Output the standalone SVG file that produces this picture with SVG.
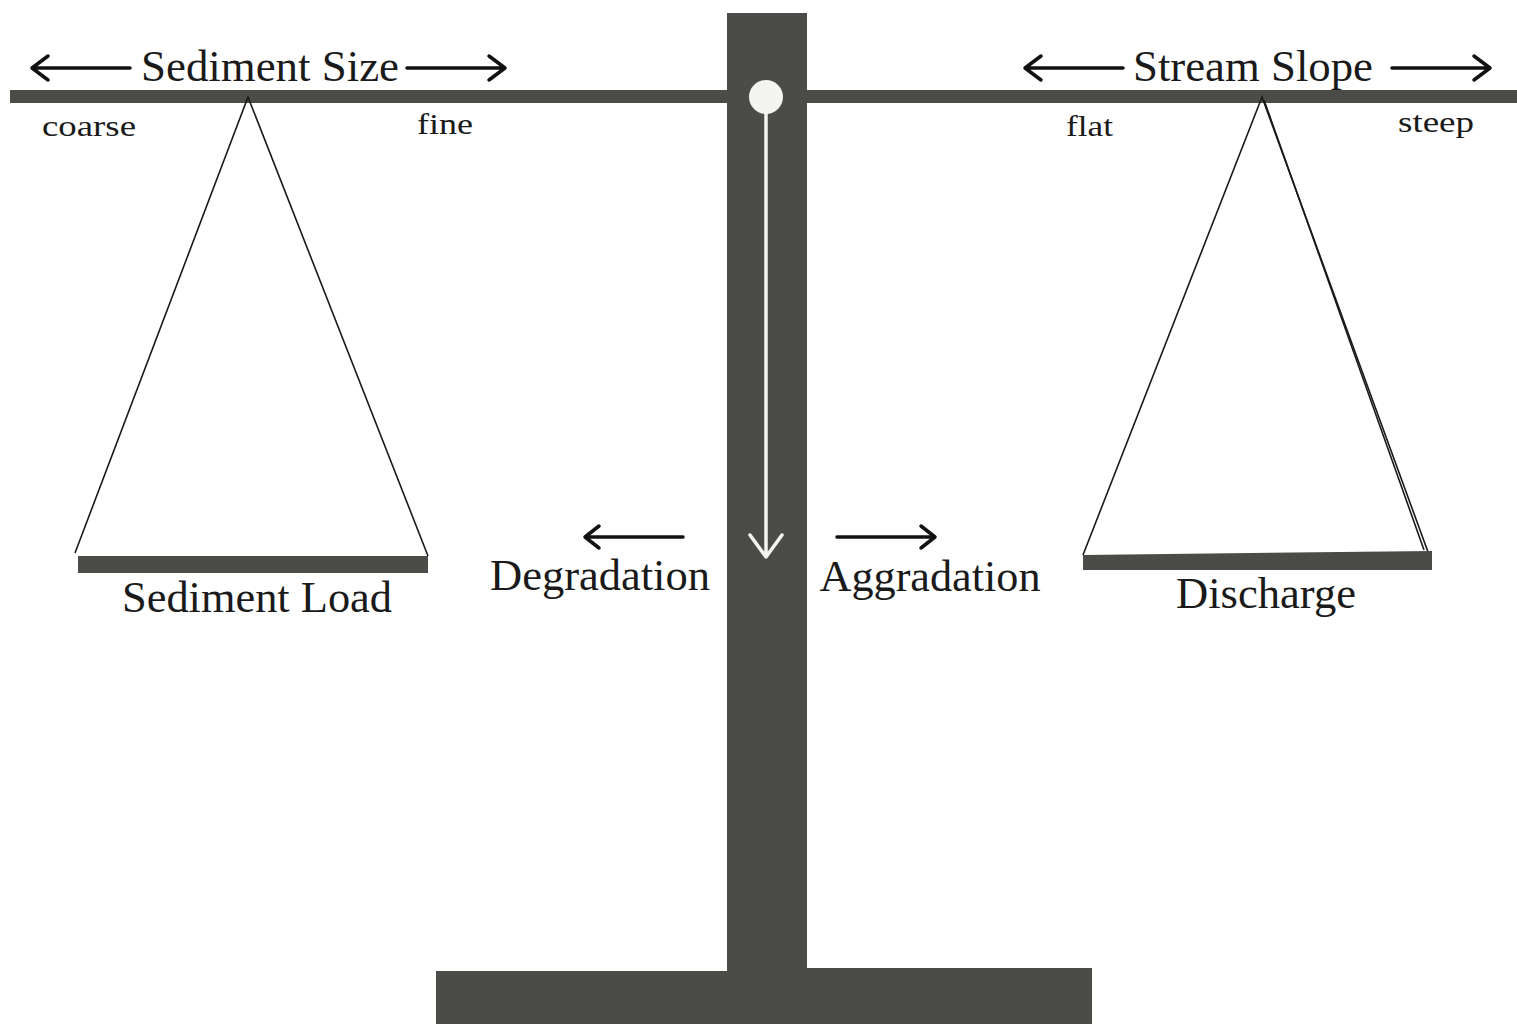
<svg xmlns="http://www.w3.org/2000/svg" width="1517" height="1024" viewBox="0 0 1517 1024">
<style>
.bar{fill:#4b4b48}
.rope{stroke:#1a1a1a;stroke-width:1.6;fill:none}
.arr{stroke:#111;stroke-width:3.5;fill:none;stroke-linecap:round;stroke-linejoin:round}
.t{font-family:"Liberation Serif","Times New Roman",serif;fill:#1a1a1a}
.big{font-size:44px}
.small{font-size:30px}
</style>
<rect width="1517" height="1024" fill="#fff"/>
<g id="stand">
<rect class="bar" x="727" y="13" width="80" height="1011"/>
<rect class="bar" x="436" y="971" width="291" height="53"/>
<rect class="bar" x="807" y="968" width="285" height="56"/>
</g>
<g id="beam">
<rect class="bar" x="10" y="90" width="1507" height="13"/>
<circle cx="766" cy="97" r="17" fill="#f4f4f0"/>
</g>
<g id="left-pan">
<path class="rope" d="M75,553 L248,97 L428,556"/>
<rect class="bar" x="78" y="556" width="350" height="17"/>
<text class="t big" x="257" y="612" text-anchor="middle" textLength="270" lengthAdjust="spacingAndGlyphs">Sediment Load</text>
</g>
<g id="right-pan">
<path class="rope" d="M1083,555 L1262,97 L1428,552"/>
<path class="rope" d="M1264,100 L1424,550"/>
<path class="bar" d="M1083,555 L1432,551 L1432,570 L1083,570 Z"/>
<text class="t big" x="1266" y="608" text-anchor="middle" textLength="180" lengthAdjust="spacingAndGlyphs">Discharge</text>
</g>
<g id="labels">
<text class="t big" x="270" y="81" text-anchor="middle" textLength="258" lengthAdjust="spacingAndGlyphs">Sediment Size</text>
<text class="t big" x="1253" y="81" text-anchor="middle" textLength="240" lengthAdjust="spacingAndGlyphs">Stream Slope</text>
<text class="t small" x="42" y="136" textLength="94" lengthAdjust="spacingAndGlyphs">coarse</text>
<text class="t small" x="417" y="134" textLength="56" lengthAdjust="spacingAndGlyphs">fine</text>
<text class="t small" x="1066" y="136" textLength="47" lengthAdjust="spacingAndGlyphs">flat</text>
<text class="t small" x="1398" y="132" textLength="76" lengthAdjust="spacingAndGlyphs">steep</text>
<text class="t big" x="600" y="590" text-anchor="middle" textLength="220" lengthAdjust="spacingAndGlyphs">Degradation</text>
<text class="t big" x="930" y="591" text-anchor="middle" textLength="221" lengthAdjust="spacingAndGlyphs">Aggradation</text>
</g>
<g id="connectors">
<path class="arr" d="M130,68 L32,68 M48,56 L32,68 L48,80"/>
<path class="arr" d="M407,68 L505,68 M489,56 L505,68 L489,80"/>
<path class="arr" d="M1123,68 L1025,68 M1041,56 L1025,68 L1041,80"/>
<path class="arr" d="M1392,68 L1490,68 M1474,56 L1490,68 L1474,80"/>
<path class="arr" d="M683,537 L585,537 M599,526 L585,537 L599,548"/>
<path class="arr" d="M837,537 L935,537 M921,526 L935,537 L921,548"/>
<path d="M766,112 L766,557 M750,535 L766,557 L782,535" stroke="#f4f4f0" stroke-width="3.5" fill="none" stroke-linecap="round" stroke-linejoin="round"/>
</g>
</svg>
